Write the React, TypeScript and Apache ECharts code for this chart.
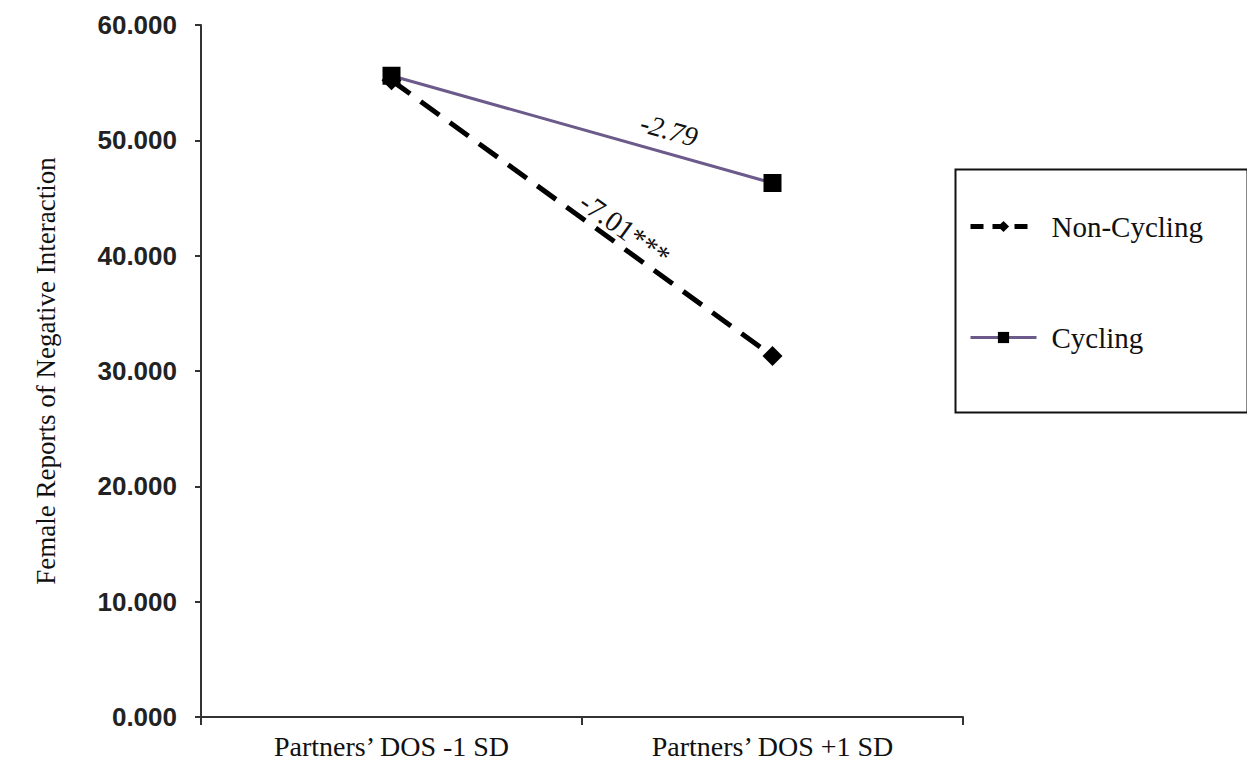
import React, { useEffect, useRef } from "react";
import * as echarts from "echarts";

const categories = ["Partners’ DOS -1 SD", "Partners’ DOS +1 SD"];
const nonCycling = [55.2, 31.3];
const cycling = [55.6, 46.3];
const yTicks = [0, 10, 20, 30, 40, 50, 60];
const slopeLabels = ["-2.79", "-7.01***"];

export default function App() {
  const ref = useRef<HTMLDivElement>(null);
  useEffect(() => {
    const chart = echarts.init(ref.current!, null, { renderer: "svg" });
    chart.setOption({
      animation: false,
      backgroundColor: "#fff",
      grid: { left: 201, right: 284, top: 25, bottom: 51, containLabel: false },
      legend: {
        orient: "vertical",
        left: 963,
        top: 207,
        itemWidth: 66,
        itemHeight: 14,
        itemGap: 82,
        textStyle: { fontFamily: "Liberation Serif", fontSize: 29, color: "#111", padding: [0, 0, 0, 10] },
        data: [
          { name: "Non-Cycling", lineStyle: { width: 5, type: [13, 9] } },
          { name: "Cycling", lineStyle: { width: 3 } },
        ],
      },
      xAxis: {
        type: "category",
        data: categories,
        boundaryGap: true,
        axisLine: { lineStyle: { color: "#333", width: 2 } },
        axisTick: { show: true, inside: false, length: 8, lineStyle: { color: "#333", width: 2 } },
        axisLabel: { fontFamily: "Liberation Serif", fontSize: 28, color: "#111", margin: 15 },
      },
      yAxis: {
        type: "value",
        min: yTicks[0],
        max: yTicks[yTicks.length - 1],
        interval: 10,
        name: "Female Reports of Negative Interaction",
        nameLocation: "middle",
        nameGap: 142,
        nameTextStyle: { fontFamily: "Liberation Serif", fontSize: 27, color: "#111" },
        splitLine: { show: false },
        axisLine: { show: true, lineStyle: { color: "#333", width: 2 } },
        axisTick: { show: true, length: 6, lineStyle: { color: "#333", width: 2 } },
        axisLabel: {
          fontFamily: "Liberation Sans",
          fontWeight: "bold",
          fontSize: 26,
          color: "#222",
          margin: 24,
          formatter: (v: number) => v.toFixed(3),
        },
      },
      series: [
        {
          name: "Non-Cycling",
          type: "line",
          data: nonCycling,
          symbol: "diamond",
          symbolSize: 20,
          itemStyle: { color: "#000" },
          lineStyle: { color: "#000", width: 5, type: [23, 13] },
          z: 2,
        },
        {
          name: "Cycling",
          type: "line",
          data: cycling,
          symbol: "rect",
          symbolSize: 18,
          itemStyle: { color: "#000" },
          lineStyle: { color: "#6b5a8a", width: 3 },
          z: 3,
        },
      ],
      graphic: [
        {
          type: "rect",
          left: 953,
          top: 167,
          shape: { width: 292, height: 243 },
          style: { fill: "none", stroke: "#111", lineWidth: 2 },
          z: -1,
        },
        {
          type: "text",
          x: 669,
          y: 130,
          rotation: -15.6 * Math.PI / 180,
          style: {
            text: slopeLabels[0],
            fontFamily: "Liberation Serif",
            fontStyle: "italic",
            fontSize: 28,
            fill: "#111",
            align: "center",
            verticalAlign: "middle",
          },
        },
        {
          type: "text",
          x: 625,
          y: 229,
          rotation: -35.8 * Math.PI / 180,
          style: {
            text: slopeLabels[1],
            fontFamily: "Liberation Serif",
            fontSize: 29,
            fill: "#111",
            align: "center",
            verticalAlign: "middle",
          },
        },
      ],
    });
    return () => chart.dispose();
  }, []);
  return <div ref={ref} style={{ width: 1247, height: 768, position: "absolute", left: 0, top: 0 }} />;
}
